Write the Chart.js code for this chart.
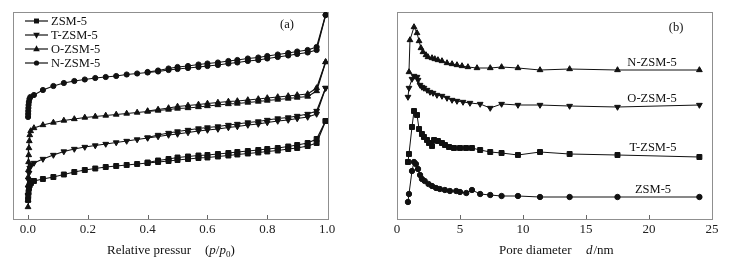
<!DOCTYPE html>
<html>
<head>
<meta charset="utf-8">
<script src="https://cdn.jsdelivr.net/npm/chart.js@4.4.0/dist/chart.umd.min.js"></script>
<style>
  html, body { margin: 0; padding: 0; background: #fff; }
  #wrap { position: relative; width: 729px; height: 263px; }
  canvas { position: absolute; top: 0; }
</style>
</head>
<body>
<div id="wrap">
  <canvas id="isotherm" width="365" height="263" style="left:0"></canvas>
  <canvas id="poreSize" width="364" height="263" style="left:365px"></canvas>
</div>
<script>
// (a) isotherms, curves stacked with an offset (arbitrary units)
const pTicks = [0, 0.2, 0.4, 0.6, 0.8, 1.0];
const pressure = [0.02, 0.05, 0.085, 0.12, 0.155, 0.19, 0.225, 0.26, 0.295, 0.33, 0.365, 0.40, 0.435, 0.47, 0.50,
  0.535, 0.57, 0.60, 0.635, 0.67, 0.70, 0.735, 0.77, 0.80, 0.835, 0.87, 0.90, 0.935, 0.965, 0.995];
const pressureDes = [0.965, 0.935, 0.90, 0.87, 0.835, 0.80, 0.77, 0.735, 0.70, 0.67, 0.635, 0.60, 0.57, 0.535, 0.50, 0.47, 0.435, 0.40];

const zsmLowP = [0.0004, 0.001, 0.002, 0.0035, 0.006, 0.01];
const zsmLow = [19, 23, 27, 31, 34, 36];
const zsmAds = [38, 40, 42, 44.5, 47, 49, 50.5, 52, 53, 54, 55, 56, 57, 58, 59, 60, 61, 61.5, 62.5, 63.5, 64.5, 65.5, 66.5, 67.5, 68.5, 70, 71, 73, 76, 98];
const zsmDes = [80, 76, 74, 72.5, 71, 70, 69, 68, 67, 66, 65, 64, 63.5, 62.5, 61.5, 60, 58.5, 56.5];

const tzsmLowP = [0.0004, 0.001, 0.002, 0.0035, 0.006, 0.01];
const tzsmLow = [24, 31, 39, 46, 51, 54];
const tzsmAds = [56, 60, 64, 67.5, 70, 72, 73.5, 75, 76.5, 78, 79.5, 81, 82.5, 84, 85, 86.5, 88, 89, 90, 91.5, 92.5, 94, 95, 96.5, 98, 99, 100.5, 102, 105, 131];
const tzsmDes = [108, 105, 103, 101.5, 100.5, 99, 97.5, 96.5, 95, 94, 92.5, 91.5, 90.5, 89, 87.5, 86, 84, 81.5];

const ozsmLowP = [0.0002, 0.0004, 0.0006, 0.0009, 0.0012, 0.0016, 0.002, 0.0026, 0.0033, 0.0045, 0.006, 0.009];
const ozsmLow = [12, 19, 26, 34, 42, 49, 57, 64, 71, 78, 84, 88];
const ozsmAds = [91, 94, 96.5, 98.5, 100, 101.5, 102.5, 103.5, 104.5, 105.5, 106.5, 107.5, 108.5, 109.5, 110.5, 111, 112, 113, 114, 115, 115.5, 116.5, 117.5, 118.5, 119.5, 120.5, 121.5, 122.5, 128, 157];
const ozsmDes = [131, 125, 124, 123, 122, 121, 120, 119, 118, 117.5, 116.5, 115.5, 114.5, 113.5, 112.5, 111, 109.5, 108];

const nzsmLowP = [0.0004, 0.0007, 0.001, 0.0015, 0.002, 0.003, 0.005, 0.008];
const nzsmLow = [102, 105, 108, 111, 114, 117, 120, 122];
const nzsmAds = [124, 129, 133, 136, 138, 139.5, 141, 142, 143, 144.5, 145.5, 146.5, 147.5, 149, 150, 151, 152, 153, 154, 155.5, 156.5, 158, 159, 160.5, 162, 163.5, 165, 166.5, 169, 204];
const nzsmDes = [172, 169, 167.5, 166, 164.5, 163, 161.5, 160.5, 159, 158, 156.5, 155.5, 154.5, 153, 152, 150.5, 148.5, 147];

// (b) pore size distributions, stacked with an offset (arbitrary units)
const dTicks = [0, 5, 10, 15, 20, 25];
const zsmDiam = [0.87, 0.95, 1.19, 1.35, 1.5, 1.67, 1.83, 1.98, 2.2, 2.5, 2.78, 3.1, 3.4, 3.8, 4.2, 4.7, 5.0, 5.5, 5.95, 6.6, 7.4, 8.3, 9.6, 11.35, 13.7, 17.5, 24];
const zsmPsd = [17, 25, 48, 57, 55, 50, 44, 40, 38, 35, 33, 31, 30, 29, 28, 28, 27, 26, 29, 25, 24, 23, 23, 22, 22, 22, 22];
const tzsmDiam = [0.87, 0.95, 1.19, 1.35, 1.59, 1.75, 1.98, 2.14, 2.38, 2.54, 2.78, 2.94, 3.25, 3.57, 3.81, 4.13, 4.52, 5.0, 5.48, 5.95, 6.6, 7.4, 8.3, 9.6, 11.35, 13.7, 17.5, 24];
const tzsmPsd = [57, 65, 92, 108, 104, 90, 85, 82, 79, 76, 73, 79, 78, 76, 74, 72, 71, 71, 71, 71, 69, 67, 66, 64, 67, 65, 64, 62];
const ozsmDiam = [0.87, 0.95, 1.19, 1.35, 1.59, 1.67, 1.83, 1.98, 2.14, 2.38, 2.62, 2.86, 3.17, 3.57, 3.97, 4.37, 4.76, 5.24, 5.79, 6.6, 7.4, 8.3, 9.6, 11.35, 13.7, 17.5, 24];
const ozsmPsd = [122, 131, 140, 143, 142, 139, 134, 132, 131, 129, 127, 126, 124, 123, 121, 119, 118, 117, 116, 115, 111, 115, 114, 114, 113, 112, 114];
const nzsmDiam = [0.95, 1.03, 1.35, 1.59, 1.75, 1.9, 2.06, 2.3, 2.46, 2.78, 3.0, 3.25, 3.57, 3.97, 4.37, 4.76, 5.16, 5.63, 6.35, 7.4, 8.3, 9.6, 11.35, 13.7, 17.5, 24];
const nzsmPsd = [147, 179, 192, 186, 178, 171, 167, 164, 162, 161, 160, 159, 158, 156, 155, 154, 153, 152, 151, 151, 152, 151, 149, 150, 149, 149];

const serif = "'Liberation Serif', 'Times New Roman', serif";
const ink = '#111';

function pts(xs, ys) {
  return xs.map((x, i) => ({ x: x, y: ys[i] }));
}

function series(data, style, radius, rotation, width) {
  return {
    data: data,
    borderColor: ink,
    borderWidth: width,
    backgroundColor: ink,
    pointStyle: style,
    pointRadius: radius,
    pointRotation: rotation || 0,
    pointBackgroundColor: ink,
    pointBorderColor: ink,
    pointBorderWidth: 1,
    tension: 0
  };
}

// ads branch incl. the low pressure points, des branch starting from the top point
function isoSets(lowP, low, ads, des, style, radius, rotation) {
  const top = { x: pressure[pressure.length - 1], y: ads[ads.length - 1] };
  return [
    series(pts(lowP, low).concat(pts(pressure, ads)), style, radius, rotation, 1.2),
    series([top].concat(pts(pressureDes, des)), style, radius, rotation, 1.2)
  ];
}

function marker(ctx, style, x, y, r, rot) {
  ctx.save();
  ctx.translate(x, y);
  ctx.rotate((rot || 0) * Math.PI / 180);
  ctx.beginPath();
  if (style === 'circle') {
    ctx.arc(0, 0, r, 0, Math.PI * 2);
  } else if (style === 'rect') {
    const s = r * Math.SQRT1_2;
    ctx.rect(-s, -s, 2 * s, 2 * s);
  } else {
    ctx.moveTo(0, -r * 1.1);
    ctx.lineTo(r, r * 0.65);
    ctx.lineTo(-r, r * 0.65);
    ctx.closePath();
  }
  ctx.fill();
  ctx.restore();
}

const framePlugin = {
  id: 'frame',
  beforeDatasetsDraw(chart) {
    const { ctx, chartArea: a } = chart;
    const x = chart.scales.x;
    ctx.save();
    ctx.strokeStyle = '#8f8f8f';
    ctx.lineWidth = 1;
    ctx.strokeRect(Math.round(a.left) + 0.5, Math.round(a.top) + 0.5,
      Math.round(a.right - a.left), Math.round(a.bottom - a.top));
    ctx.strokeStyle = '#666';
    x.ticks.forEach(t => {
      const px = Math.round(x.getPixelForValue(t.value)) + 0.5;
      if (px <= a.left + 2 || px >= a.right - 2) return;
      ctx.beginPath();
      ctx.moveTo(px, a.bottom);
      ctx.lineTo(px, a.bottom - 4);
      ctx.stroke();
    });
    ctx.restore();
  },
  afterDraw(chart, args, opts) {
    const ctx = chart.ctx;
    ctx.save();
    ctx.fillStyle = ink;
    ctx.strokeStyle = ink;
    ctx.textBaseline = 'middle';
    (opts.notes || []).forEach(n => {
      ctx.font = '12.5px ' + serif;
      ctx.textAlign = n.align || 'center';
      ctx.fillText(n.text, n.x, n.y);
    });
    (opts.legend || []).forEach(l => {
      ctx.lineWidth = 1.2;
      ctx.beginPath();
      ctx.moveTo(l.x, l.y);
      ctx.lineTo(l.x + 23, l.y);
      ctx.stroke();
      marker(ctx, l.style, l.x + 11.5, l.y, l.r, l.rot);
      ctx.font = '12.5px ' + serif;
      ctx.textAlign = 'left';
      ctx.fillText(l.text, l.x + 26, l.y + 0.5);
    });
    // axis title built from pieces (italic symbols, subscript)
    let cx = 0;
    ctx.textBaseline = 'alphabetic';
    ctx.textAlign = 'left';
    (opts.title || []).forEach(s => {
      if (s.x !== undefined) cx = s.x;
      const size = s.sub ? 9 : 13;
      ctx.font = (s.italic ? 'italic ' : '') + size + 'px ' + serif;
      ctx.fillText(s.text, cx, s.sub ? opts.titleY + 3 : opts.titleY);
      cx += ctx.measureText(s.text).width + (s.gap || 0);
    });
    ctx.restore();
  }
};

function xAxis(min, max, tickValues, fmt) {
  return {
    type: 'linear',
    min: min,
    max: max,
    afterBuildTicks: s => { s.ticks = tickValues.map(v => ({ value: v })); },
    afterFit: s => { s.height = 44; },
    grid: { display: false, drawTicks: false, tickLength: 0 },
    border: { display: false },
    ticks: {
      autoSkip: false,
      maxRotation: 0,
      padding: 3,
      color: '#222',
      font: { family: serif, size: 13 },
      callback: fmt
    }
  };
}

const baseOptions = (padding, xScale, frameOpts) => ({
  responsive: false,
  animation: false,
  devicePixelRatio: 1,
  layout: { padding: padding },
  plugins: { legend: { display: false }, tooltip: { enabled: false }, frame: frameOpts },
  scales: {
    x: xScale,
    y: { display: false, min: 0, max: 207 }
  }
});

new Chart(document.getElementById('isotherm'), {
  type: 'line',
  data: {
    datasets: [].concat(
      isoSets(zsmLowP, zsmLow, zsmAds, zsmDes, 'rect', 3.5, 0),
      isoSets(tzsmLowP, tzsmLow, tzsmAds, tzsmDes, 'triangle', 3.3, 180),
      isoSets(ozsmLowP, ozsmLow, ozsmAds, ozsmDes, 'triangle', 3.3, 0),
      isoSets(nzsmLowP, nzsmLow, nzsmAds, nzsmDes, 'circle', 2.6, 0)
    )
  },
  options: baseOptions({ left: 13, right: 37, top: 12, bottom: 0 },
    xAxis(-0.05, 1.003, pTicks, v => v.toFixed(1)),
    {
      notes: [{ text: '(a)', x: 287, y: 25 }],
      legend: [
        { text: 'ZSM-5', x: 25, y: 21, style: 'rect', r: 3.5 },
        { text: 'T-ZSM-5', x: 25, y: 35, style: 'triangle', r: 3.3, rot: 180 },
        { text: 'O-ZSM-5', x: 25, y: 49, style: 'triangle', r: 3.3 },
        { text: 'N-ZSM-5', x: 25, y: 63, style: 'circle', r: 2.6 }
      ],
      titleY: 254,
      title: [
        { text: 'Relative pressur', x: 107 },
        { text: '(', x: 205 },
        { text: 'p', italic: true },
        { text: '/' },
        { text: 'p', italic: true },
        { text: '0', sub: true },
        { text: ')' }
      ]
    }),
  plugins: [framePlugin]
});

new Chart(document.getElementById('poreSize'), {
  type: 'line',
  data: {
    datasets: [
      series(pts(zsmDiam, zsmPsd), 'circle', 2.7, 0, 1),
      series(pts(tzsmDiam, tzsmPsd), 'rect', 3.5, 0, 1),
      series(pts(ozsmDiam, ozsmPsd), 'triangle', 3.3, 180, 1),
      series(pts(nzsmDiam, nzsmPsd), 'triangle', 3.3, 0, 1)
    ]
  },
  options: baseOptions({ left: 32, right: 17, top: 12, bottom: 0 },
    xAxis(0, 25, dTicks, v => String(v)),
    {
      notes: [
        { text: '(b)', x: 311, y: 28 },
        { text: 'N-ZSM-5', x: 287, y: 63 },
        { text: 'O-ZSM-5', x: 287, y: 99 },
        { text: 'T-ZSM-5', x: 288, y: 148 },
        { text: 'ZSM-5', x: 288, y: 190 }
      ],
      titleY: 254,
      title: [
        { text: 'Pore diameter', x: 134 },
        { text: 'd', italic: true, x: 221, gap: 1 },
        { text: '/nm' }
      ]
    }),
  plugins: [framePlugin]
});
</script>
</body>
</html>
